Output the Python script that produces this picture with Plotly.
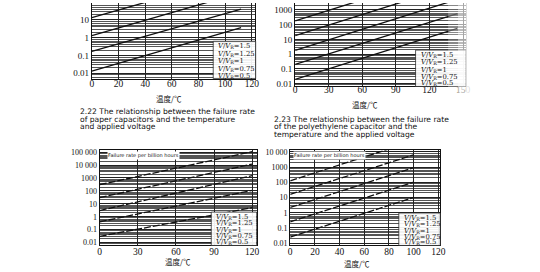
import plotly.graph_objects as go

W, H = 540, 272

# ---------------- data ----------------
ratio_labels = ["1.5", "1.25", "1", "0.75", "0.5"]

# top-left: paper capacitors (series ordered V/VR = 0.5 ... 1.5)
paper_temp = [0, 112]
paper_rates = [[0.013, 3.6], [0.17, 40], [1.3, 330], [13, 3300], [125, 32000]]

# top-right: polyethylene capacitors
poly_temp = [0, 145]
poly_rates = [[0.019, 55], [0.2, 570], [1.8, 5200], [18, 52000], [180, 520000]]

# bottom-left
bl_temp = [0, 120]
bl_rates = [[0.03, 5], [0.4, 110], [3, 1500], [30, 12000], [300, 110000]]

# bottom-right
br_temp = [0, 100]
br_rates = [[0.025, 10], [0.25, 100], [2.2, 900], [16, 6300], [125, 50000]]

tl_xticks = [0, 20, 40, 60, 80, 100, 120]
tr_xticks = [0, 30, 60, 90, 120, 150]
bl_xticks = [0, 30, 60, 90, 120]
br_xticks = [0, 20, 40, 60, 80, 100, 120]

decade_text = {-2: "0.01", -1: "0.1", 0: "1", 1: "10", 2: "100",
               3: "1000", 4: "10 000", 5: "100 000"}

caption_a = ["2.22 The relationship between the failure rate",
             "of paper capacitors and the temperature",
             "and applied voltage"]
caption_b = ["2.23 The relationship between the failure rate",
             "of the polyethylene capacitor and the",
             "temperature and the applied voltage"]
x_title = "温度/℃"
rate_note = "Failure rate per billion hours"

# ---------------- helpers ----------------
def fx(p):
    return p / W

def fy(p):
    return 1 - p / H

SERIF = "Liberation Serif, Times New Roman, serif"
WSERIF = "DejaVu Serif, serif"
SANS = "DejaVu Sans, sans-serif"
CJK = "Noto Sans CJK SC"

major_vals = [10.0 ** k for k in range(-2, 6)]
major_text = [decade_text[k] for k in range(-2, 6)]
minor_vals = [m * 10.0 ** k for k in range(-3, 6) for m in (2, 3, 4, 5, 6, 8)]


def xaxis_cfg(dom, rng, ticks, anchor, mirror, standoff, size=9.5):
    return dict(domain=[fx(dom[0]), fx(dom[1])], range=rng, anchor=anchor,
                tickmode="array", tickvals=ticks, ticktext=[str(t) for t in ticks],
                showgrid=True, gridcolor="#222", gridwidth=1,
                showline=True, linecolor="#111", linewidth=1.2, mirror=mirror,
                ticks="", zeroline=False, ticklabelstandoff=standoff,
                tickfont=dict(family=SERIF, size=size, color="#111"))


def yaxis_cfg(dom, rng, anchor, size=9):
    return dict(domain=[fy(dom[1]), fy(dom[0])], type="log", range=rng, anchor=anchor,
                tickmode="array", tickvals=major_vals, ticktext=major_text,
                showgrid=True, gridcolor="#222", gridwidth=1,
                minor=dict(tickmode="array", tickvals=minor_vals, showgrid=True,
                           gridcolor="#555", gridwidth=0.6, ticks=""),
                showline=True, linecolor="#111", linewidth=1.2, mirror=True,
                ticks="", zeroline=False,
                tickfont=dict(family=SERIF, size=size, color="#111"))


fig = go.Figure()

panels = [
    ("x", "y", paper_temp, paper_rates, "solid"),
    ("x2", "y2", poly_temp, poly_rates, "solid"),
    ("x3", "y3", bl_temp, bl_rates, "7px,2px"),
    ("x4", "y4", br_temp, br_rates, "7px,2px"),
]
for xa, ya, temps, rates, dash in panels:
    for i, r in enumerate(rates):
        fig.add_trace(go.Scatter(x=temps, y=r, xaxis=xa, yaxis=ya, mode="lines",
                                 line=dict(color="#111", width=1.3, dash=dash),
                                 name="V/VR=" + ratio_labels[::-1][i],
                                 showlegend=False, hoverinfo="skip"))

layout = dict(
    width=W, height=H, margin=dict(l=0, r=0, t=0, b=0),
    paper_bgcolor="white", plot_bgcolor="white", showlegend=False,
    xaxis=xaxis_cfg((91, 256), [0, 122.2], tl_xticks, "y", False, -4),
    yaxis=yaxis_cfg((0, 77), [-2.3, 1.94], "x"),
    xaxis2=xaxis_cfg((297, 470), [0, 152.6], tr_xticks, "y2", False, -6),
    yaxis2=yaxis_cfg((0, 85), [-2.2, 3.47], "x2"),
    xaxis3=xaxis_cfg((99, 258), [0, 123.5], bl_xticks, "y3", True, -3),
    yaxis3=yaxis_cfg((150, 247), [-2.23, 5.15], "x3", size=8),
    xaxis4=xaxis_cfg((292, 444), [0, 121.6], br_xticks, "y4", True, -3),
    yaxis4=yaxis_cfg((150, 247), [-2.15, 4.1], "x4", size=8),
)
fig.update_layout(**layout)

ann = []


def text(x, y, s, size, family, anchor="left", bg=None):
    d = dict(x=fx(x), y=fy(y), xref="paper", yref="paper", text=s, showarrow=False,
             xanchor=anchor, yanchor="middle",
             font=dict(family=family, size=size, color="#111"))
    if bg:
        d["bgcolor"] = bg
        d["borderpad"] = 0
    ann.append(d)


def vlabel(r):
    return "<i>V</i>/<i>V</i><sub>R</sub>=" + r


legend_pos = [
    (217, [44, 52, 59, 67, 74], (214, 257, 39, 77)),
    (422, [53, 60, 68, 75, 82], (419, 470, 48, 85)),
    (215, [218, 224, 231, 237, 243], (212, 258, 213, 247)),
    (405, [219, 225, 232, 238, 243], (402, 444, 214, 247)),
]
shapes = []
for x0, ys, box in legend_pos:
    shapes.append(dict(type="rect", xref="paper", yref="paper",
                       x0=fx(box[0]), x1=fx(box[1]), y0=fy(box[3]), y1=fy(box[2]),
                       fillcolor="white", opacity=0.92,
                       line=dict(color="#222", width=0.8), layer="above"))
    for r, yy in zip(ratio_labels, ys):
        text(x0, yy, vlabel(r), 6.8, WSERIF)

for i, s in enumerate(caption_a):
    text(77, 111 + 7.5 * i, s, 7.6, SANS)
for i, s in enumerate(caption_b):
    text(274, 118.5 + 7.5 * i, s, 7.6, SANS)

text(169, 97, x_title, 7.5, CJK, anchor="center")
text(368, 103, x_title, 7.5, CJK, anchor="center")
text(178, 263, x_title, 7.5, CJK, anchor="center")
text(360, 265, x_title, 7.5, CJK, anchor="center")

text(106, 155, rate_note, 5, SANS, bg="white")
text(295, 155, rate_note, 5, SANS, bg="white")

fig.update_layout(annotations=ann)

# scanner fade on the right edge of the top-right panel
for x0, x1, op in [(452, 462, 0.3), (462, 470, 0.6), (470, 490, 0.85)]:
    shapes.append(dict(type="rect", xref="paper", yref="paper",
                       x0=fx(x0), x1=fx(x1), y0=fy(105), y1=fy(0),
                       fillcolor="white", opacity=op, line=dict(width=0), layer="above"))
fig.update_layout(shapes=shapes)

fig.write_html("out.html")
